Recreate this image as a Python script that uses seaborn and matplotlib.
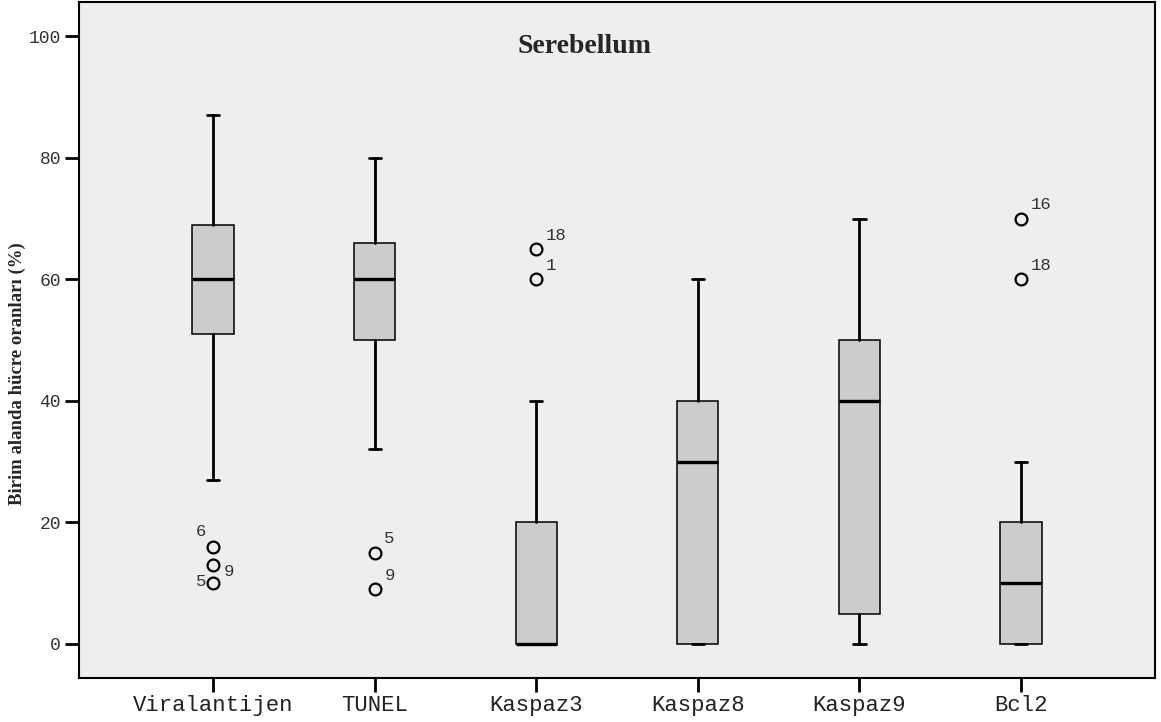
import matplotlib
matplotlib.use("Agg")
import matplotlib.pyplot as plt
import seaborn as sns

sns.set_style("white")

categories = ["Viralantijen", "TUNEL", "Kaspaz3", "Kaspaz8", "Kaspaz9", "Bcl2"]
whisker_low = [27, 32, 0, 0, 0, 0]
q1 = [51, 50, 0, 0, 5, 0]
median = [60, 60, 0, 30, 40, 10]
q3 = [69, 66, 20, 40, 50, 20]
whisker_high = [87, 80, 40, 60, 70, 30]
outlier_values = [[16, 13, 10], [15, 9], [65, 60], [], [], [70, 60]]
outlier_cases = [["6", "9", "5"], ["5", "9"], ["18", "1"], [], [], ["16", "18"]]
# where each case number sits relative to its circle
outlier_label_side = [["lu", "rd", "l"], ["ru", "ru"], ["ru", "ru"], [], [], ["ru", "ru"]]

fig, ax = plt.subplots(figsize=(11.61, 7.22), dpi=100)
fig.subplots_adjust(left=0.068, right=0.995, top=0.997, bottom=0.061)

stats = []
for i, name in enumerate(categories):
    stats.append(dict(label=name, whislo=whisker_low[i], q1=q1[i], med=median[i],
                      q3=q3[i], whishi=whisker_high[i], fliers=outlier_values[i]))

ax.bxp(stats, positions=range(len(categories)), widths=0.255, patch_artist=True,
       showfliers=True,
       boxprops=dict(facecolor="#cccccc", edgecolor="black", linewidth=1.1),
       medianprops=dict(color="black", linewidth=2.4),
       whiskerprops=dict(color="black", linewidth=2.0),
       capprops=dict(color="black", linewidth=2.0),
       capwidths=0.075,
       flierprops=dict(marker="o", markersize=8.5, markerfacecolor="none",
                       markeredgecolor="black", markeredgewidth=1.6))

mono = "Liberation Mono"
offsets = {"ru": (7, 10, "left"), "rd": (8, -4.5, "left"), "lu": (-5, 11, "right"),
           "l": (-5, 1, "right")}
for i, vals in enumerate(outlier_values):
    for v, case, side in zip(vals, outlier_cases[i], outlier_label_side[i]):
        dx, dy, ha = offsets[side]
        ax.annotate(case, (i, v), xytext=(dx, dy), textcoords="offset points",
                    ha=ha, va="center", fontsize=12.5, family=mono, color="#333333")

ax.set_facecolor("#eeeeee")
ax.set_xlim(-0.83, 5.83)
ax.set_ylim(-5.6, 105.6)
ax.set_yticks([0, 20, 40, 60, 80, 100])
ax.set_xticks(range(len(categories)))
ax.set_xticklabels(categories, family=mono, fontsize=16, color="#222222")
for lab in ax.get_yticklabels():
    lab.set_family(mono)
    lab.set_fontsize(13)
    lab.set_color("#333333")
ax.tick_params(axis="both", direction="out", length=10, width=2, color="black", pad=3,
               left=True, bottom=True)
ax.tick_params(axis="x", pad=2)
for side in ["left", "bottom", "top", "right"]:
    ax.spines[side].set_color("black")
    ax.spines[side].set_linewidth(1.5)

ax.set_ylabel("Birim alanda hücre oranları (%)", family="Liberation Serif",
              fontweight="bold", fontsize=13.5)
ax.yaxis.set_label_coords(-0.049, 0.451)
ax.text(0.47, 0.935, "Serebellum", transform=ax.transAxes, ha="center", va="center",
        family="Liberation Serif", fontweight="bold", fontsize=20)

fig.savefig("out.png", dpi=100, facecolor="white")
